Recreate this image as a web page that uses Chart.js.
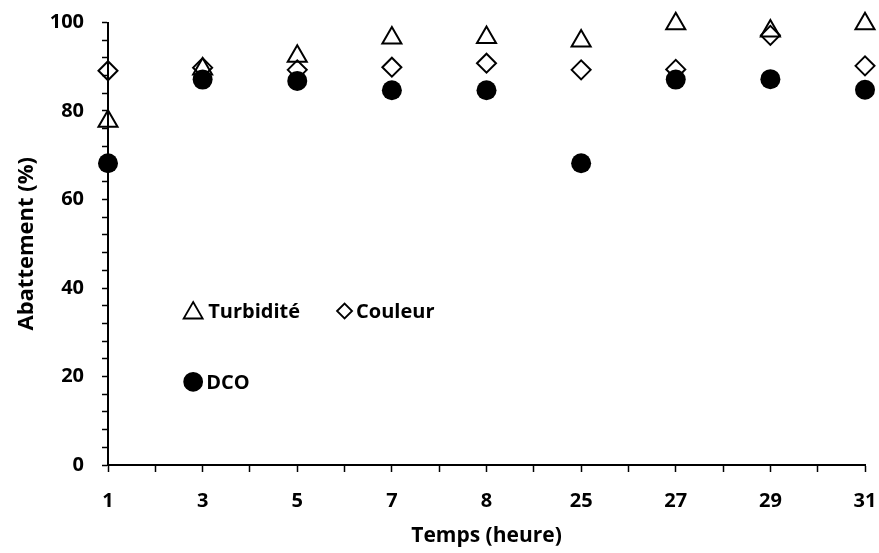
<!DOCTYPE html>
<html>
<head>
<meta charset="utf-8">
<script src="https://cdn.jsdelivr.net/npm/chart.js@4/dist/chart.umd.min.js"></script>
<style>
  html, body { margin: 0; padding: 0; background: #fff; }
  #wrap { width: 879px; height: 553px; }
</style>
</head>
<body>
<div id="wrap"><canvas id="abatChart" width="879" height="553"></canvas></div>
<script>
// Temps de prélèvement (heure)
const temps = ['1', '3', '5', '7', '8', '25', '27', '29', '31'];
// Abattement (%) par paramètre
const turbidite = [77.7, 89.5, 92.4, 96.5, 96.6, 95.8, 99.7, 98.1, 99.7];
const couleur = [89.1, 89.8, 89.3, 89.9, 90.8, 89.3, 89.4, 97.1, 90.2];
const dco = [68.2, 87.1, 86.8, 84.7, 84.7, 68.2, 87.1, 87.2, 84.8];
const yTicks = [0, 20, 40, 60, 80, 100];

const police = '"Open Sans", Lato, sans-serif';

function points(values) {
    return values.map((v, i) => ({ x: i, y: v }));
}

// légende dessinée dans la zone du graphique
const legendeInterne = {
    id: 'legendeInterne',
    afterDraw(chart) {
        const ctx = chart.ctx;
        const xs = chart.scales.x, ys = chart.scales.y;
        const items = [
            { style: 'triangle', r: 11, fill: 'rgba(0,0,0,0)', x: 0.9, y: 34.8, text: 'Turbidité' },
            { style: 'rectRot', r: 7.5, fill: 'rgba(0,0,0,0)', x: 2.5, y: 34.8, text: 'Couleur' },
            { style: 'circle', r: 9, fill: '#000', x: 0.9, y: 18.8, text: 'DCO' }
        ];
        ctx.save();
        ctx.font = 'bold 20px ' + police;
        ctx.textBaseline = 'middle';
        items.forEach(it => {
            const px = xs.getPixelForValue(it.x);
            const py = ys.getPixelForValue(it.y);
            ctx.fillStyle = it.fill;
            ctx.strokeStyle = '#000';
            ctx.lineWidth = 1.8;
            Chart.helpers.drawPoint(ctx, { pointStyle: it.style, radius: it.r, borderWidth: 1.8 }, px, py + (it.style === 'triangle' ? 2 : 0));
            ctx.fillStyle = '#000';
            ctx.fillText(it.text, px + it.r + 4, py + 1);
        });
        ctx.restore();
    }
};

const ctx = document.getElementById('abatChart').getContext('2d');
const abatChart = new Chart(ctx, {
    type: 'scatter',
    data: {
        datasets: [
            {
                label: 'Turbidité',
                data: points(turbidite),
                pointStyle: 'triangle',
                pointRadius: 11,
                borderColor: '#000',
                backgroundColor: 'rgba(0,0,0,0)',
                borderWidth: 2,
                order: 3
            },
            {
                label: 'Couleur',
                data: points(couleur),
                pointStyle: 'rectRot',
                pointRadius: 9.5,
                borderColor: '#000',
                backgroundColor: 'rgba(0,0,0,0)',
                borderWidth: 2,
                order: 2
            },
            {
                label: 'DCO',
                data: points(dco),
                pointStyle: 'circle',
                pointRadius: 10,
                borderColor: '#000',
                backgroundColor: '#000',
                borderWidth: 0,
                order: 1
            }
        ]
    },
    options: {
        responsive: false,
        animation: false,
        clip: false,
        layout: { padding: { top: 22.5, right: 14, left: 0, bottom: 0 } },
        scales: {
            x: {
                type: 'linear',
                min: 0,
                max: temps.length - 1,
                afterBuildTicks: scale => {
                    const t = [];
                    for (let v = 0; v <= temps.length - 1; v += 0.5) t.push({ value: v });
                    scale.ticks = t;
                },
                afterFit: scale => {
                    scale.height = 88;
                    scale.paddingLeft = 0;
                    scale.paddingRight = 0;
                },
                grid: {
                    drawOnChartArea: false,
                    color: '#000',
                    tickLength: 7,
                    tickWidth: 1.5
                },
                border: { color: '#000', width: 2 },
                ticks: {
                    color: '#000',
                    font: { family: police, size: 20, weight: 'bold' },
                    padding: 17,
                    maxRotation: 0,
                    autoSkip: false,
                    callback: v => Number.isInteger(v) ? temps[v] : ''
                },
                title: {
                    display: true,
                    text: 'Temps (heure)',
                    color: '#000',
                    font: { family: police, size: 21, weight: 'bold' },
                    padding: { top: 0, bottom: 4 }
                }
            },
            y: {
                min: 0,
                max: 100,
                afterBuildTicks: scale => {
                    const t = [];
                    for (let v = 0; v <= 100; v += 4) t.push({ value: v });
                    scale.ticks = t;
                },
                afterFit: scale => {
                    scale.width = 108;
                    scale.paddingTop = 0;
                    scale.paddingBottom = 0;
                },
                grid: {
                    drawOnChartArea: false,
                    color: '#000',
                    tickLength: 6,
                    tickWidth: 1.5
                },
                border: { color: '#000', width: 2 },
                ticks: {
                    color: '#000',
                    font: { family: police, size: 20, weight: 'bold' },
                    padding: 18,
                    autoSkip: false,
                    callback: v => yTicks.includes(v) ? v : ''
                },
                title: {
                    display: true,
                    text: 'Abattement (%)',
                    color: '#000',
                    font: { family: police, size: 22, weight: 'bold' },
                    padding: { top: 14, bottom: 0 }
                }
            }
        },
        plugins: {
            legend: { display: false },
            tooltip: { enabled: false }
        }
    },
    plugins: [legendeInterne]
});
</script>
</body>
</html>
